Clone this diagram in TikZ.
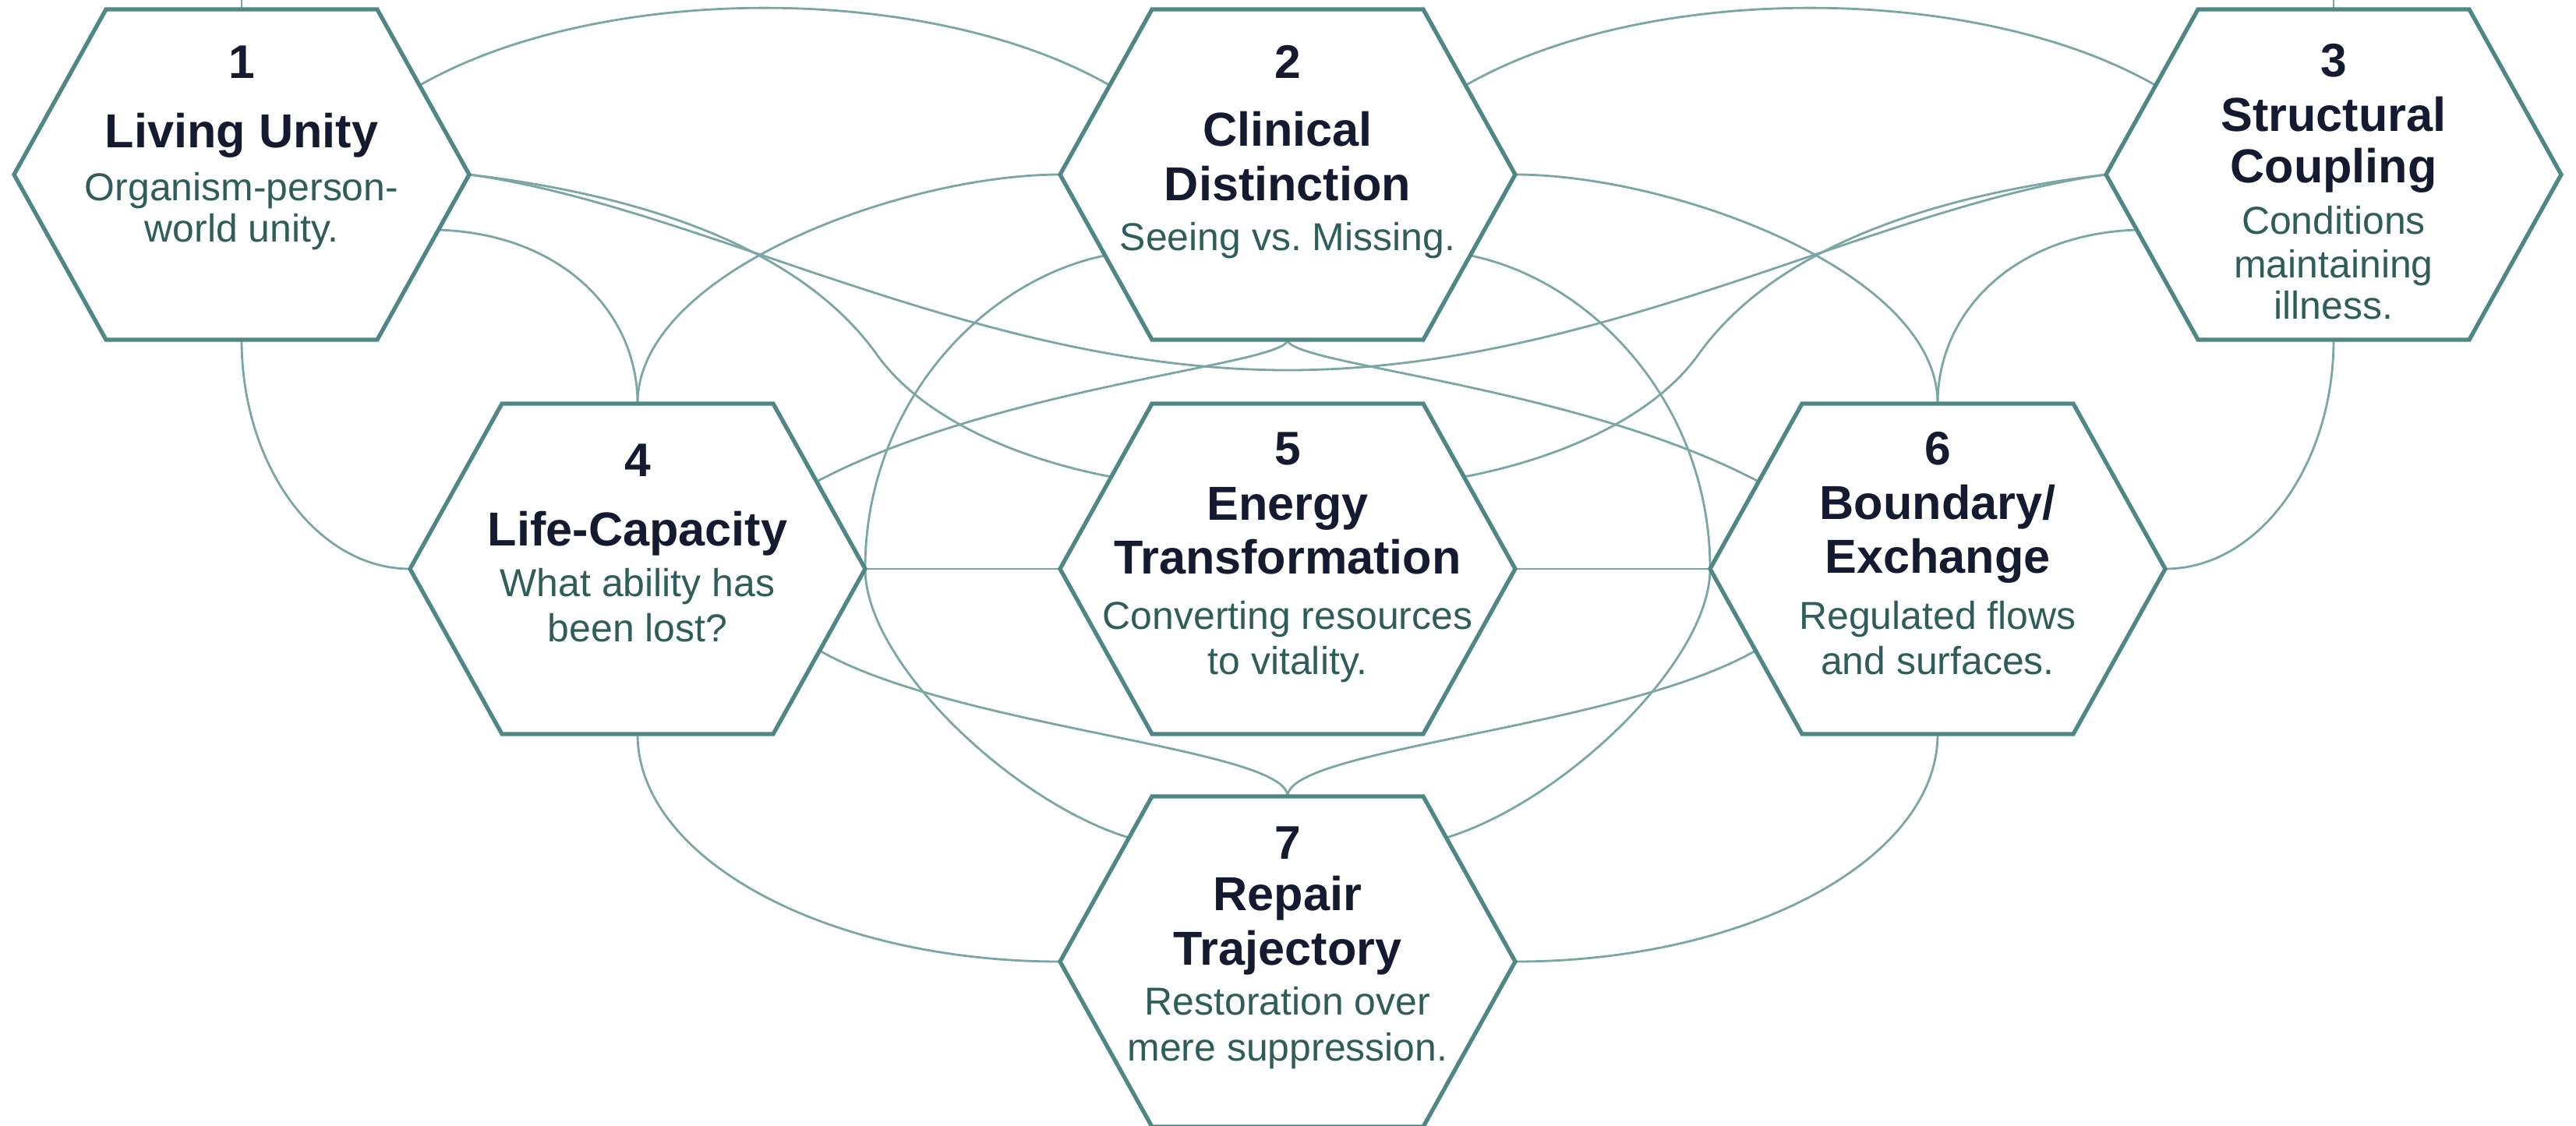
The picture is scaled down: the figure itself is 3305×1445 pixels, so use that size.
\documentclass[tikz,border=0pt]{standalone}
\usepackage{fontspec}
\setmainfont{Liberation Sans}
\usetikzlibrary{calc}
\definecolor{hexline}{HTML}{4F8784}
\definecolor{conn}{HTML}{7AA7A4}
\definecolor{titlecol}{HTML}{161A30}
\definecolor{desccol}{HTML}{2F5D59}
\newcommand\hexcoords[3]{%
  \coordinate (#1) at (#2,#3);
  \coordinate (#1-l) at (#2-292,#3);
  \coordinate (#1-r) at (#2+292,#3);
  \coordinate (#1-t) at (#2,#3-212);
  \coordinate (#1-b) at (#2,#3+212);
  \coordinate (#1-tl) at (#2-174,#3-212);
  \coordinate (#1-tr) at (#2+174,#3-212);
  \coordinate (#1-bl) at (#2-174,#3+212);
  \coordinate (#1-br) at (#2+174,#3+212);
}
\newcommand\drawhex[1]{\draw[hexbox] (#1-tl) -- (#1-tr) -- (#1-r) -- (#1-br) -- (#1-bl) -- (#1-l) -- cycle;}
\newcommand\hexlabel[5]{\node[#1] (#2) at ($(#3)+(0,#4)$) {#5};}
\begin{document}
\begin{tikzpicture}[x=0.01cm,y=-0.01cm,
  hexbox/.style={draw=hexline, line width=1.5pt, fill=white, overlay},
  conline/.style={draw=conn, line width=0.8pt, overlay},
  numtxt/.style={anchor=base, inner sep=0pt, text=titlecol, font=\bfseries\fontsize{17.2}{20}\selectfont},
  ttltxt/.style={anchor=base, inner sep=0pt, text=titlecol, font=\bfseries\fontsize{17.4}{20}\selectfont},
  dsctxt/.style={anchor=base, inner sep=0pt, text=desccol, font=\fontsize{14.2}{17}\selectfont}]
\fill[white] (0,0) rectangle (3305,1445);
\clip (0,0) rectangle (3305,1445);
\hexcoords{h1}{310}{224}
\hexcoords{h2}{1652}{224}
\hexcoords{h3}{2994}{224}
\hexcoords{h4}{818}{730}
\hexcoords{h5}{1652}{730}
\hexcoords{h6}{2486}{730}
\hexcoords{h7}{1652}{1234}
\coordinate (s1) at (310,-20);
\coordinate (s3) at (2994,-20);
\coordinate (ubot) at (1652,475);
\coordinate (sl) at (1125,455);
\coordinate (sr) at (2179,455);
% stubs
\draw[conline] (s1) -- (h1-t);
\draw[conline] (s3) -- (h3-t);
% top arcs
\draw[conline] ($(h1-tr)!0.46!(h1-r)$) .. controls (770,-23) and (1193,-23) .. ($(h2-tl)!0.46!(h2-l)$);
\draw[conline] ($(h2-tr)!0.46!(h2-r)$) .. controls (2111,-23) and (2534,-23) .. ($(h3-tl)!0.46!(h3-l)$);
% outer quarter curves
\draw[conline] (h1-b) .. controls (310,598) and (407,730) .. (h4-l);
\draw[conline] (h3-b) .. controls (2994,598) and (2897,730) .. (h6-r);
% to tops of 4 and 6
\draw[conline] ($(h1-r)!0.335!(h1-br)$) .. controls (720,300) and (818,400) .. (h4-t);
\draw[conline] ($(h3-l)!0.335!(h3-bl)$) .. controls (2584,300) and (2486,400) .. (h6-t);
\draw[conline] (h2-l) .. controls (1160,224) and (818,348) .. (h4-t);
\draw[conline] (h2-r) .. controls (2144,224) and (2486,348) .. (h6-t);
% long curve 1-3
\draw[conline] (h1-r) .. controls (900,265) and (1252,475) .. (ubot) .. controls (2052,475) and (2404,265) .. (h3-l);
% 1-5 and 3-5
\draw[conline] (h1-r) .. controls (852,254) and (1035,329) .. (sl) .. controls (1185,539) and (1310,590) .. ($(h5-tl)!0.443!(h5-l)$);
\draw[conline] (h3-l) .. controls (2452,254) and (2269,329) .. (sr) .. controls (2119,539) and (1994,590) .. ($(h5-tr)!0.443!(h5-r)$);
% from bottom of 2
\draw[conline] (h2-b) .. controls (1652,468) and (1280,495) .. ($(h4-tr)!0.472!(h4-r)$);
\draw[conline] (h2-b) .. controls (1652,468) and (2024,495) .. ($(h6-tl)!0.472!(h6-l)$);
% big side arcs
\draw[conline] ($(h2-l)!0.49!(h2-bl)$) .. controls (1260,360) and (1110,520) .. (h4-r);
\draw[conline] (h4-r) .. controls (1110,850) and (1300,1030) .. ($(h7-tl)!0.25!(h7-l)$);
\draw[conline] ($(h2-r)!0.49!(h2-br)$) .. controls (2044,360) and (2194,520) .. (h6-l);
\draw[conline] (h6-l) .. controls (2194,850) and (2004,1030) .. ($(h7-tr)!0.25!(h7-r)$);
% straight middle links
\draw[conline] (h4-r) -- (h5-l);
\draw[conline] (h5-r) -- (h6-l);
% into top of 7
\draw[conline] ($(h4-r)!0.495!(h4-br)$) .. controls (1226,935) and (1652,960) .. (h7-t);
\draw[conline] ($(h6-l)!0.495!(h6-bl)$) .. controls (2078,935) and (1652,960) .. (h7-t);
% lower quarter curves
\draw[conline] (h4-b) .. controls (818,1103) and (1062,1234) .. (h7-l);
\draw[conline] (h6-b) .. controls (2486,1103) and (2242,1234) .. (h7-r);
% hexagons
\drawhex{h1}\drawhex{h2}\drawhex{h3}\drawhex{h4}\drawhex{h5}\drawhex{h6}\drawhex{h7}
% texts
\hexlabel{numtxt}{n1}{h1}{-124}{1}
\hexlabel{ttltxt}{t1}{h1}{-35}{Living Unity}
\hexlabel{dsctxt}{d1a}{h1}{33}{Organism-person-}
\hexlabel{dsctxt}{d1b}{h1}{86}{world unity.}
\hexlabel{numtxt}{n2}{h2}{-124}{2}
\hexlabel{ttltxt}{t2a}{h2}{-37}{Clinical}
\hexlabel{ttltxt}{t2b}{h2}{33}{Distinction}
\hexlabel{dsctxt}{d2a}{h2}{97}{Seeing vs.\ Missing.}
\hexlabel{numtxt}{n3}{h3}{-126}{3}
\hexlabel{ttltxt}{t3a}{h3}{-56}{Structural}
\hexlabel{ttltxt}{t3b}{h3}{10}{Coupling}
\hexlabel{dsctxt}{d3a}{h3}{76}{Conditions}
\hexlabel{dsctxt}{d3b}{h3}{132}{maintaining}
\hexlabel{dsctxt}{d3c}{h3}{185}{illness.}
\hexlabel{numtxt}{n4}{h4}{-119}{4}
\hexlabel{ttltxt}{t4}{h4}{-30}{Life-Capacity}
\hexlabel{dsctxt}{d4a}{h4}{35}{What ability has}
\hexlabel{dsctxt}{d4b}{h4}{93}{been lost?}
\hexlabel{numtxt}{n5}{h5}{-134}{5}
\hexlabel{ttltxt}{t5a}{h5}{-63}{Energy}
\hexlabel{ttltxt}{t5b}{h5}{6}{Transformation}
\hexlabel{dsctxt}{d5a}{h5}{77}{Converting resources}
\hexlabel{dsctxt}{d5b}{h5}{135}{to vitality.}
\hexlabel{numtxt}{n6}{h6}{-134}{6}
\hexlabel{ttltxt}{t6a}{h6}{-64}{Boundary/}
\hexlabel{ttltxt}{t6b}{h6}{5}{Exchange}
\hexlabel{dsctxt}{d6a}{h6}{77}{Regulated flows}
\hexlabel{dsctxt}{d6b}{h6}{135}{and surfaces.}
\hexlabel{numtxt}{n7}{h7}{-132}{7}
\hexlabel{ttltxt}{t7a}{h7}{-66}{Repair}
\hexlabel{ttltxt}{t7b}{h7}{4}{Trajectory}
\hexlabel{dsctxt}{d7a}{h7}{68}{Restoration over}
\hexlabel{dsctxt}{d7b}{h7}{127}{mere suppression.}
\end{tikzpicture}
\end{document}
